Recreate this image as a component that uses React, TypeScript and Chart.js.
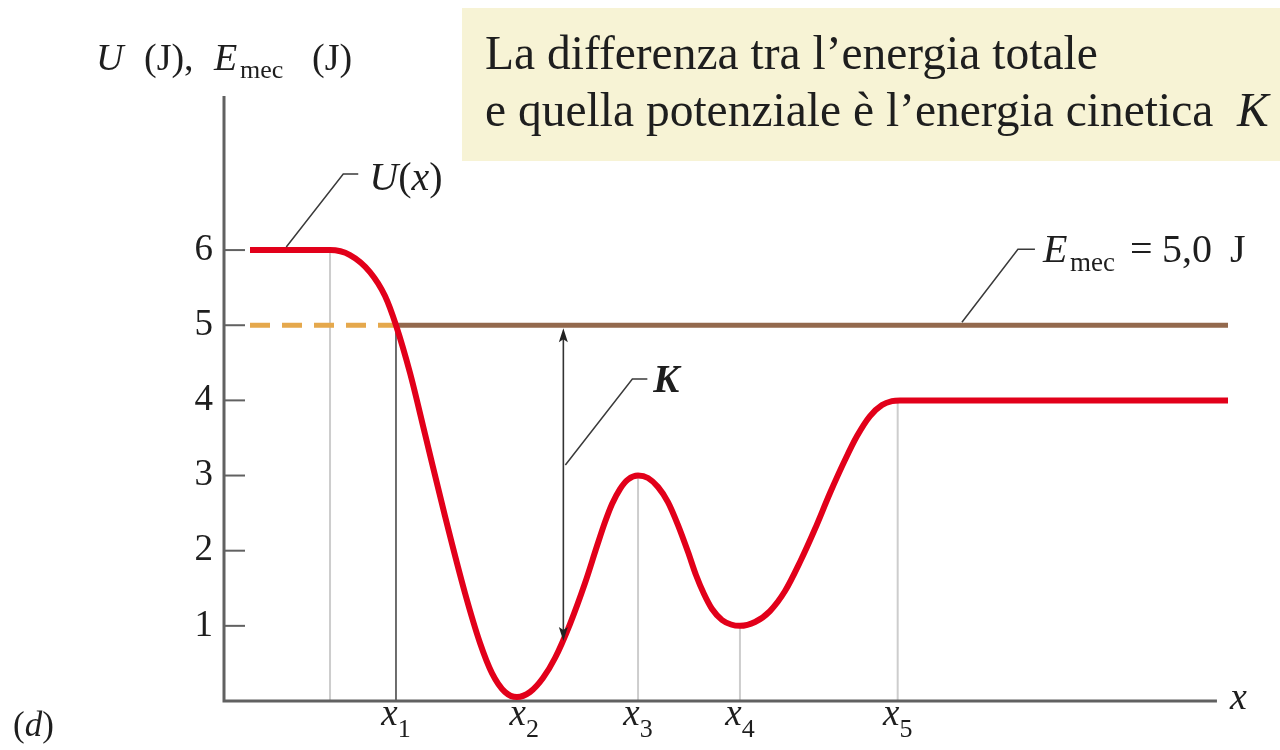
import React, { useEffect, useRef } from "react";
import { Chart, registerables } from "chart.js";

Chart.register(...registerables);

// Potential energy curve U(x) (J), sampled along x (arbitrary units)
const curveX = [
  0.259, 1.056, 1.255, 1.454, 1.604, 1.713, 1.853, 2.002, 2.201, 2.4, 2.55, 2.669, 2.799, 2.918,
  3.048, 3.177, 3.297, 3.446, 3.596, 3.715, 3.795, 3.865, 3.944, 4.024, 4.124,
  4.223, 4.323, 4.422, 4.522, 4.622, 4.701, 4.781, 4.861, 4.96, 5.05, 5.139,
  5.289, 5.438, 5.588, 5.737, 5.886, 6.036, 6.185, 6.305, 6.434, 6.554, 6.653, 6.733, 10,
];
const curveU = [
  6.0, 6.0, 5.933, 5.707, 5.388, 5.0, 4.363, 3.552, 2.461, 1.437, 0.772, 0.372, 0.12, 0.053,
  0.12, 0.306, 0.572, 1.024, 1.57, 2.062, 2.381, 2.621, 2.82, 2.947, 3.0,
  2.967, 2.847, 2.647, 2.341, 1.982, 1.676, 1.423, 1.224, 1.078, 1.018, 1.0,
  1.051, 1.197, 1.463, 1.849, 2.288, 2.767, 3.206, 3.525, 3.791, 3.938, 3.991, 4.0, 4.0,
];

// Mechanical energy level (J): forbidden part dashed, allowed part solid
const energyE = 5.0;
const energyDashedX = [0.259, 1.713];
const energySolidX = [1.713, 10];

// Axis ticks and named positions along x
const yTicks = [1, 2, 3, 4, 5, 6];
const markerX = [1.713, 2.99, 4.124, 5.139, 6.71];
const markerSub = ["1", "2", "3", "4", "5"];

// Vertical guides: x position, the U value they rise to, dark or light
const guideX = [1.056, 1.713, 4.124, 5.139, 6.71];
const guideTop = [6, 5, 3, 1, 4];
const guideDark = [false, true, false, false, false];

// Kinetic energy arrow K = E - U at this x
const kArrowX = 3.38;
const kArrowU = 0.81;

const xAxisEnd = 9.89;

const boxLine1 = "La differenza tra l\u2019energia totale";
const boxLine2 = "e quella potenziale \u00e8 l\u2019energia cinetica";

const SERIF = "'Liberation Serif', 'Times New Roman', serif";
const INK = "#1e1e1e";

type Run = { t: string; font: string; dy?: number; at?: number };

function runsWidth(ctx: CanvasRenderingContext2D, runs: Run[]) {
  let w = 0;
  for (const r of runs) {
    ctx.font = r.font;
    w += ctx.measureText(r.t).width;
  }
  return w;
}

function drawRuns(ctx: CanvasRenderingContext2D, x: number, y: number, runs: Run[]) {
  let cx = x;
  for (const r of runs) {
    if (r.at !== undefined) cx = r.at;
    ctx.font = r.font;
    ctx.fillText(r.t, cx, y + (r.dy || 0));
    cx += ctx.measureText(r.t).width;
  }
  return cx;
}

function arrowHead(ctx: CanvasRenderingContext2D, x: number, tipY: number, dir: number) {
  // dir = -1 points up, +1 points down
  const len = 14;
  const half = 4.5;
  ctx.beginPath();
  ctx.moveTo(x, tipY);
  ctx.lineTo(x - half, tipY - dir * len);
  ctx.lineTo(x, tipY - dir * (len - 3));
  ctx.lineTo(x + half, tipY - dir * len);
  ctx.closePath();
  ctx.fill();
}

const it = (s: number) => `italic ${s}px ${SERIF}`;
const rg = (s: number) => `${s}px ${SERIF}`;

const overlay = {
  id: "energyOverlay",
  beforeDatasetsDraw(chart: any) {
    const { ctx, chartArea } = chart;
    const xs = chart.scales.x;
    const ys = chart.scales.y;
    ctx.save();
    // vertical guides
    guideX.forEach((gx, i) => {
      const px = xs.getPixelForValue(gx);
      ctx.strokeStyle = guideDark[i] ? "#4a4a4a" : "#cdcdcd";
      ctx.lineWidth = guideDark[i] ? 1.6 : 2;
      ctx.beginPath();
      ctx.moveTo(px, ys.getPixelForValue(guideTop[i]));
      ctx.lineTo(px, ys.getPixelForValue(0));
      ctx.stroke();
    });
    // axes
    const x0 = chartArea.left;
    const y0 = ys.getPixelForValue(0);
    ctx.strokeStyle = "#616161";
    ctx.lineWidth = 3;
    ctx.lineJoin = "miter";
    ctx.beginPath();
    ctx.moveTo(x0, chartArea.top);
    ctx.lineTo(x0, y0);
    ctx.lineTo(xs.getPixelForValue(xAxisEnd), y0);
    ctx.stroke();
    // inner tick marks
    ctx.lineWidth = 2;
    yTicks.forEach((v) => {
      const py = ys.getPixelForValue(v);
      ctx.beginPath();
      ctx.moveTo(x0, py);
      ctx.lineTo(x0 + 21, py);
      ctx.stroke();
    });
    ctx.restore();
  },
  afterDatasetsDraw(chart: any) {
    const { ctx } = chart;
    const xs = chart.scales.x;
    const ys = chart.scales.y;
    ctx.save();
    ctx.fillStyle = INK;
    ctx.textBaseline = "alphabetic";
    ctx.textAlign = "left";

    // K arrow between E and U
    const ax = xs.getPixelForValue(kArrowX);
    const topTip = ys.getPixelForValue(energyE) + 3;
    const botTip = ys.getPixelForValue(kArrowU) + 1;
    ctx.strokeStyle = "#333";
    ctx.lineWidth = 1.6;
    ctx.beginPath();
    ctx.moveTo(ax, topTip + 10);
    ctx.lineTo(ax, botTip - 10);
    ctx.stroke();
    ctx.fillStyle = "#222";
    arrowHead(ctx, ax, topTip, -1);
    arrowHead(ctx, ax, botTip, 1);
    ctx.fillStyle = INK;

    // leader lines
    ctx.strokeStyle = "#3a3a3a";
    ctx.lineWidth = 1.5;
    const leader = (px: number, py: number, dx: number, dy: number, tail: number) => {
      ctx.beginPath();
      ctx.moveTo(px, py);
      ctx.lineTo(px + dx, py + dy);
      ctx.lineTo(px + dx + tail, py + dy);
      ctx.stroke();
      return { x: px + dx + tail, y: py + dy };
    };

    // U(x) label
    const uA = leader(xs.getPixelForValue(0.62), ys.getPixelForValue(6) - 3, 57, -73, 15);
    drawRuns(ctx, uA.x + 11, uA.y + 16, [
      { t: "U", font: it(40) },
      { t: "(", font: rg(40) },
      { t: "x", font: it(40) },
      { t: ")", font: rg(40) },
    ]);

    // E_mec label
    const eA = leader(xs.getPixelForValue(7.35), ys.getPixelForValue(energyE) - 3, 56, -73, 17);
    const ex = eA.x + 8;
    drawRuns(ctx, ex, eA.y + 13, [
      { t: "E", font: it(40) },
      { t: "mec", font: rg(27), dy: 9, at: ex + 27 },
      { t: "=", font: rg(40), at: ex + 87 },
      { t: "5,0", font: rg(40), at: ex + 119 },
      { t: "J", font: rg(40), at: ex + 187 },
    ]);

    // K label
    const kA = leader(ax + 2, ys.getPixelForValue(3.14), 67, -86, 15);
    drawRuns(ctx, kA.x + 6, kA.y + 13, [{ t: "K", font: `italic bold 39px ${SERIF}` }]);

    // x-axis markers x1..x5
    const baseY = ys.getPixelForValue(0) + 24;
    markerX.forEach((mx, i) => {
      const runs: Run[] = [
        { t: "x", font: it(37) },
        { t: markerSub[i], font: rg(26), dy: 12 },
      ];
      const w = runsWidth(ctx, runs);
      drawRuns(ctx, xs.getPixelForValue(mx) - w / 2, baseY, runs);
    });

    // axis name at the end of x axis
    drawRuns(ctx, xs.getPixelForValue(xAxisEnd) + 13, ys.getPixelForValue(0) + 8, [{ t: "x", font: it(38) }]);

    // y-axis title
    drawRuns(ctx, 96, 70, [
      { t: "U", font: it(38) },
      { t: "(J),", font: rg(38), at: 144 },
      { t: "E", font: it(38), at: 214 },
      { t: "mec", font: rg(26), dy: 8, at: 240 },
      { t: "(J)", font: rg(38), at: 312 },
    ]);

    // panel tag
    drawRuns(ctx, 13, 736, [
      { t: "(", font: rg(35) },
      { t: "d", font: it(35) },
      { t: ")", font: rg(35) },
    ]);

    // explanatory box
    ctx.fillStyle = "#f7f3d5";
    ctx.fillRect(462, 8, chart.width - 462, 153);
    ctx.fillStyle = INK;
    drawRuns(ctx, 485, 69, [{ t: boxLine1, font: rg(47.5) }]);
    drawRuns(ctx, 485, 126, [
      { t: boxLine2 + "  ", font: rg(47.5) },
      { t: "K", font: it(47.5) },
    ]);

    ctx.restore();
  },
};

export default function App() {
  const canvasRef = useRef<HTMLCanvasElement | null>(null);

  useEffect(() => {
    const canvas = canvasRef.current;
    if (!canvas) return;
    const uPoints = curveX.map((x, i) => ({ x, y: curveU[i] }));
    const chart = new Chart(canvas, {
      type: "line",
      data: {
        datasets: [
          {
            label: "U(x)",
            data: uPoints,
            borderColor: "#e2001a",
            borderWidth: 6,
            pointRadius: 0,
            cubicInterpolationMode: "monotone",
            fill: false,
            clip: false,
          },
          {
            label: "E_mec",
            data: energySolidX.map((x) => ({ x, y: energyE })),
            borderColor: "#93694d",
            borderWidth: 5,
            pointRadius: 0,
            fill: false,
            clip: false,
          },
          {
            label: "E_mec (dashed)",
            data: energyDashedX.map((x) => ({ x, y: energyE })),
            borderColor: "#e5a84c",
            borderWidth: 5,
            borderDash: [20, 12],
            pointRadius: 0,
            fill: false,
            clip: false,
          },
        ],
      },
      options: {
        responsive: false,
        animation: false,
        events: [],
        layout: { padding: { top: 96, right: 52, bottom: 49, left: 0 } },
        plugins: { legend: { display: false }, tooltip: { enabled: false }, title: { display: false } },
        scales: {
          x: {
            type: "linear",
            min: 0,
            max: 10,
            display: false,
          },
          y: {
            type: "linear",
            min: 0,
            max: 8.05,
            grid: { display: false, drawTicks: false },
            border: { display: false },
            afterBuildTicks: (scale: any) => {
              scale.ticks = yTicks.map((v) => ({ value: v }));
            },
            afterFit: (scale: any) => {
              scale.width = 224;
            },
            ticks: {
              padding: 11,
              color: INK,
              font: { family: "'Liberation Serif', serif", size: 37 },
              callback: (v: any) => String(v),
            },
          },
        },
      },
      plugins: [overlay],
    });
    return () => chart.destroy();
  }, []);

  return (
    <div style={{ position: "fixed", left: 0, top: 0, width: 1280, height: 750, background: "#fff" }}>
      <canvas ref={canvasRef} width={1280} height={750} style={{ display: "block" }} />
    </div>
  );
}
